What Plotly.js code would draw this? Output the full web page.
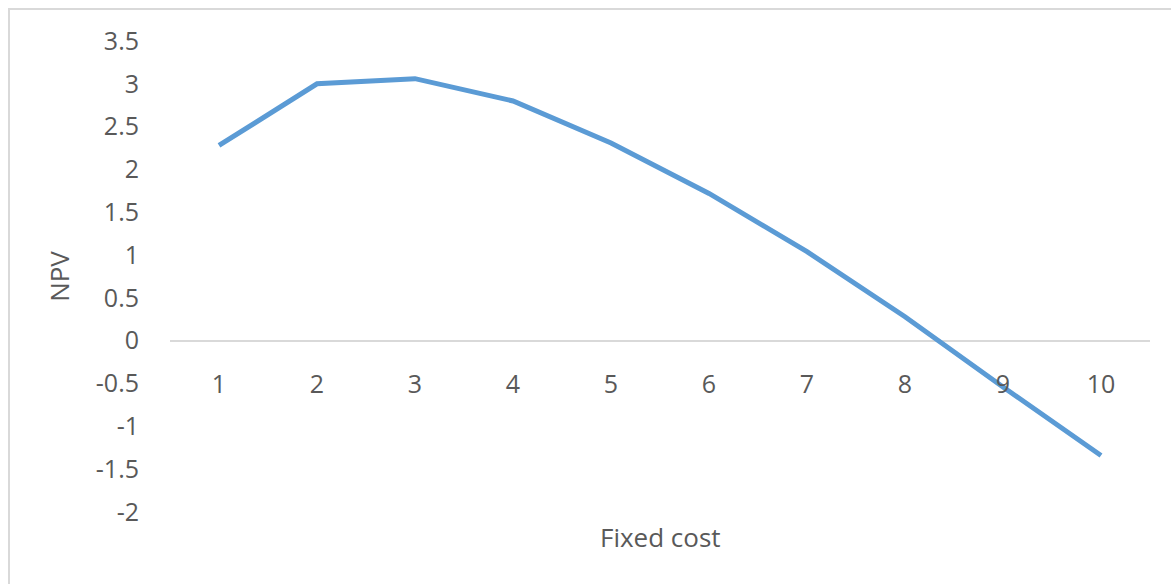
<!DOCTYPE html>
<html>
<head>
<meta charset="utf-8">
<script src="https://cdn.plot.ly/plotly-3.0.1.min.js"></script>
<style>
  html, body { margin: 0; padding: 0; background: #ffffff; overflow: hidden; }
  #wrap { position: relative; width: 1171px; height: 584px; }
  #chart { position: absolute; left: 0; top: 0; width: 1171px; height: 584px; }
  /* light frame around the chart area */
  #frame {
    position: absolute; left: 8px; top: 8px; width: 1180px; height: 600px;
    border: 2px solid #d9d9d9; box-sizing: border-box; pointer-events: none;
  }
</style>
</head>
<body>
<div id="wrap">
  <div id="chart"></div>
  <div id="frame"></div>
</div>
<script>
// Fixed cost levels and the resulting NPV
const fixedCost = [1, 2, 3, 4, 5, 6, 7, 8, 9, 10];
const npv = [2.28, 3.0, 3.06, 2.80, 2.31, 1.72, 1.04, 0.28, -0.54, -1.34];

const yTicks = [-2, -1.5, -1, -0.5, 0, 0.5, 1, 1.5, 2, 2.5, 3, 3.5];
const yRange = [-2, 3.5];
const xRange = [0.5, 10.5];

const textColor = '#595959';
const fontFamily = '"Open Sans", "Noto Sans", sans-serif';

// category axis sits on the value-axis zero line
const zeroFrac = (0 - yRange[0]) / (yRange[1] - yRange[0]);

const trace = {
  x: fixedCost,
  y: npv,
  type: 'scatter',
  mode: 'lines',
  line: { color: '#5B9BD5', width: 5 },
  hoverinfo: 'skip'
};

const layout = {
  width: 1171,
  height: 584,
  margin: { l: 170, r: 21, t: 41, b: 72 },
  paper_bgcolor: '#ffffff',
  plot_bgcolor: '#ffffff',
  showlegend: false,
  font: { family: fontFamily, color: textColor, size: 25 },
  xaxis: {
    range: xRange,
    tickmode: 'array',
    tickvals: fixedCost,
    ticktext: fixedCost.map(String),
    anchor: 'free',
    position: zeroFrac,
    showline: false,
    showgrid: false,
    zeroline: false,
    ticks: '',
    ticklabelstandoff: 26,
    tickfont: { family: fontFamily, size: 25, color: textColor }
  },
  yaxis: {
    range: yRange,
    tickmode: 'array',
    tickvals: yTicks,
    ticktext: yTicks.map(String),
    showline: false,
    showgrid: false,
    zeroline: true,
    zerolinecolor: '#d9d9d9',
    zerolinewidth: 2,
    ticks: '',
    ticklabelstandoff: 30,
    tickfont: { family: fontFamily, size: 25, color: textColor },
    title: {
      text: 'NPV',
      font: { family: fontFamily, size: 26, color: textColor },
      standoff: 18
    }
  },
  annotations: [{
    text: 'Fixed cost',
    xref: 'paper', yref: 'paper',
    x: 0.5, y: 0,
    xanchor: 'center', yanchor: 'middle',
    yshift: -25,
    showarrow: false,
    font: { family: fontFamily, size: 26, color: textColor }
  }]
};

Plotly.newPlot('chart', [trace], layout, { staticPlot: true, displayModeBar: false });
</script>
</body>
</html>
